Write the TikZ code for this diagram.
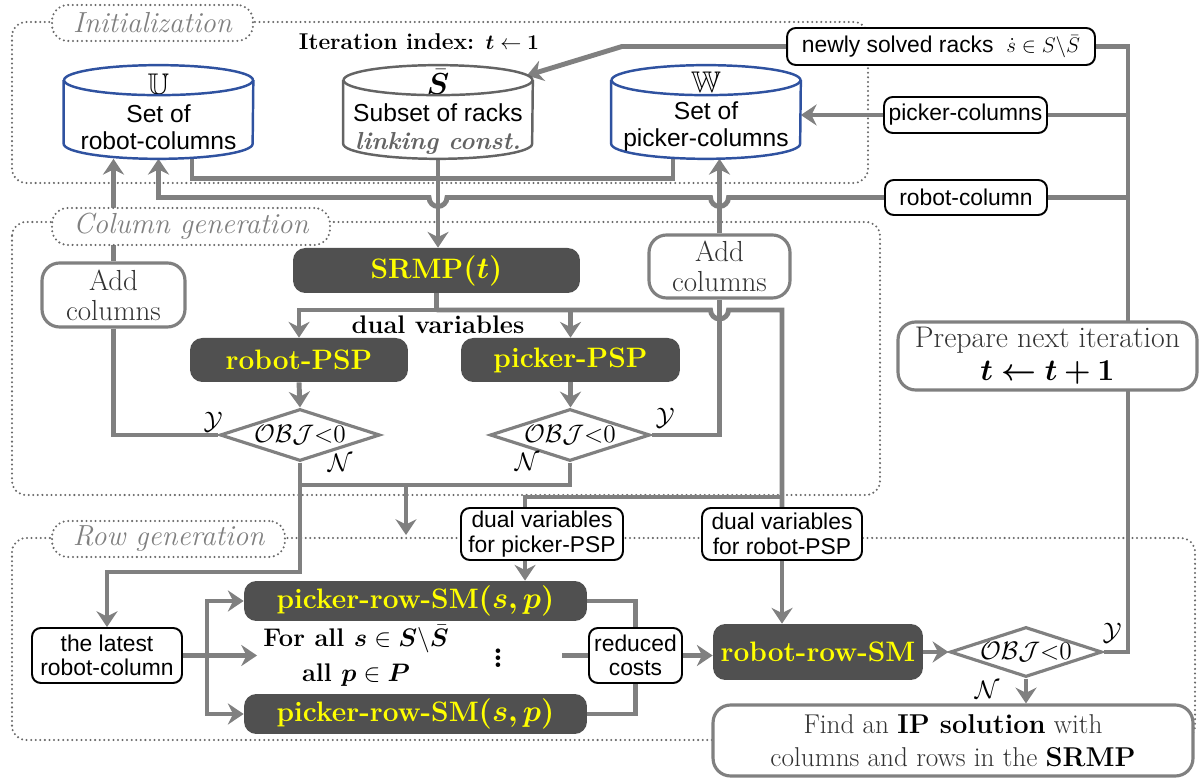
\documentclass[tikz,border=0pt]{standalone}
\usepackage{amssymb}
\usepackage{bm}
\usepackage{fontspec}
\setsansfont{Liberation Sans}
\usetikzlibrary{shapes.geometric, arrows.meta, positioning, calc, backgrounds}
\definecolor{flowgray}{RGB}{128,128,128}
\definecolor{framegray}{RGB}{105,105,105}
\definecolor{boxdark}{RGB}{80,80,80}
\definecolor{hiyellow}{RGB}{255,255,0}
\definecolor{dbblue}{RGB}{47,82,160}
\definecolor{dbgray}{RGB}{100,100,100}
\definecolor{txtgray}{RGB}{50,50,50}
\tikzset{
    frame/.style={draw=framegray, line width=1.3pt, line cap=round, dash pattern=on 0pt off 2.6pt, rounded corners=8pt},
    framelabel/.style={draw=framegray, line width=1.3pt, line cap=round, dash pattern=on 0pt off 2.6pt, fill=white, rounded corners=9pt, text=flowgray, font=\fontsize{16.5}{18}\selectfont\itshape, inner sep=0pt},
    flow/.style={draw=flowgray, line width=2.8pt},
    arrow/.style={flow, -{Stealth[length=9pt, width=12pt, inset=3pt]}},
    solver/.style={rectangle, rounded corners=7pt, fill=boxdark, text=hiyellow, font=\fontsize{16}{18}\selectfont\bfseries, inner sep=0pt},
    note/.style={rectangle, rounded corners=5pt, draw=black, line width=1.1pt, fill=white, font=\sffamily\fontsize{13}{14}\selectfont, align=center, inner sep=0pt},
    process/.style={rectangle, rounded corners=10pt, draw=flowgray, line width=1.8pt, fill=white, text=txtgray, font=\fontsize{16.5}{17}\selectfont, align=center, inner sep=0pt},
    decision/.style={diamond, draw=flowgray, line width=1.8pt, fill=white, inner sep=0pt},
    dectext/.style={font=\fontsize{15}{18}\selectfont, inner sep=0pt},
    database/.style={rectangle, minimum width=3.78cm, minimum height=1.86cm, inner sep=0pt, align=center, font=\sffamily\fontsize{14}{15.5}\selectfont},
    dbsym/.style={font=\fontsize{17}{15.5}\selectfont},
    yn/.style={font=\fontsize{14}{16}\selectfont, inner sep=0pt}
}
\begin{document}
\begin{tikzpicture}[x=0.02cm, y=0.02cm]
    \useasboundingbox (0,0) rectangle (1202,780);

    % Initialization
    \node[framelabel, minimum width=4.02cm, minimum height=0.72cm] (initlbl) at (152.5,757) {Initialization};
    \node[font=\fontsize{13}{15}\selectfont\bfseries] (iter) at (419,738) {Iteration index: $\bm{t}\leftarrow\bm{1}$};
    \node[database] (U) at (158.5,668) {{\fontsize{17}{15.5}\selectfont$\mathbb{U}$}\\Set of\\robot-columns};
    \node[database] (Sbar) at (438,668) {{\fontsize{17}{15.5}\selectfont$\bar{\bm{S}}$}\\Subset of racks\\{\rmfamily\bfseries\itshape\color{dbgray}linking const.}};
    \node[database] (W) at (706,668) {{\fontsize{17}{15.5}\selectfont$\mathbb{W}$}\\Set of\\picker-columns};
    \foreach \db/\col in {U/dbblue, Sbar/dbgray, W/dbblue}{
        \draw[\col, line width=1.4pt] ([yshift=-0.3cm]\db.north west) -- ([yshift=0.3cm]\db.south west)
            arc[start angle=180, end angle=360, x radius=1.89cm, y radius=0.3cm] -- ([yshift=-0.3cm]\db.north east);
        \draw[\col, line width=1.4pt] ([yshift=-0.3cm]\db.north) ellipse [x radius=1.89cm, y radius=0.3cm];
    }

    % Feedback labels
    \node[note, minimum width=6.16cm, minimum height=0.74cm] (newly) at (941,733.5) {newly solved racks\ \ $\dot{s}\in S\backslash\bar{S}$};
    \node[note, minimum width=3.26cm, minimum height=0.72cm] (pickcol) at (965.5,665) {picker-columns};
    \node[note, minimum width=3.24cm, minimum height=0.70cm] (robcol) at (966,582.5) {robot-column};
    \node[process, font=\fontsize{17}{19}\selectfont, minimum width=5.98cm, minimum height=1.36cm] (prep) at (1047.5,424) {Prepare next iteration\\{\color{black}$\bm{t\leftarrow t+1}$}};

    % Column generation
    \node[framelabel, minimum width=5.56cm, minimum height=0.74cm] (collbl) at (191,553.5) {Column generation};
    \node[solver, minimum width=5.74cm, minimum height=0.9cm] (SRMP) at (436.5,509.5) {SRMP$\bm{(t)}$};
    \node[process, minimum width=2.86cm, minimum height=1.28cm] (addL) at (113.5,485) {Add\\columns};
    \node[process, minimum width=2.82cm, minimum height=1.26cm] (addR) at (719.5,513.5) {Add\\columns};
    \node[font=\fontsize{14.5}{16}\selectfont\bfseries] (dualtxt) at (438,455) {dual variables};
    \node[solver, minimum width=4.36cm, minimum height=0.88cm] (robPSP) at (299,420) {robot-PSP};
    \node[solver, minimum width=4.38cm, minimum height=0.88cm] (pickPSP) at (570.5,420) {picker-PSP};
    \node[decision, minimum width=3.2cm, minimum height=1.04cm, label={[dectext]center:$\mathcal{OBJ}{<}0$}] (d1) at (300,345) {};
    \node[decision, minimum width=3.2cm, minimum height=1.04cm, label={[dectext]center:$\mathcal{OBJ}{<}0$}] (d2) at (570,345) {};
    \node[yn] (y1) at (213,358) {$\mathcal{Y}$};
    \node[yn] (n1) at (340,317) {$\mathcal{N}$};
    \node[yn] (y2) at (665,362) {$\mathcal{Y}$};
    \node[yn] (n2) at (527,318) {$\mathcal{N}$};

    % Row generation
    \node[framelabel, minimum width=4.66cm, minimum height=0.72cm] (rowlbl) at (168.5,241) {Row generation};
    \node[note, minimum width=3.24cm, minimum height=1.04cm] (dualpick) at (542,246) {dual variables\\for picker-PSP};
    \node[note, minimum width=3.2cm, minimum height=1.04cm] (dualrob) at (782,246) {dual variables\\for robot-PSP};
    \node[note, minimum width=3.0cm, minimum height=1.1cm] (latest) at (107,124.5) {the latest\\robot-column};
    \node[solver, minimum width=6.86cm, minimum height=0.8cm] (prs1) at (415.5,179) {picker-row-SM$\bm{(s,p)}$};
    \node[solver, minimum width=6.86cm, minimum height=0.8cm] (prs2) at (415.5,66) {picker-row-SM$\bm{(s,p)}$};
    \node[font=\fontsize{14.5}{20}\selectfont\bfseries, align=center] (forall) at (356,124) {For all $\bm{s}\in\bm{S}\backslash\bar{\bm{S}}$\\all $\bm{p}\in\bm{P}$};
    \node[font=\fontsize{18}{18}\selectfont] (vdots) at (498,127) {$\bm{\vdots}$};
    \node[note, minimum width=1.86cm, minimum height=1.1cm] (reduced) at (635.5,124.5) {reduced\\costs};
    \node[solver, minimum width=4.2cm, minimum height=1.12cm] (rrsm) at (818,128) {robot-row-SM};
    \node[decision, minimum width=3.04cm, minimum height=1.0cm, label={[dectext]center:$\mathcal{OBJ}{<}0$}] (d3) at (1026,128) {};
    \node[yn] (y3) at (1112,147) {$\mathcal{Y}$};
    \node[yn] (n3) at (987,90) {$\mathcal{N}$};
    \node[process, font=\fontsize{15.5}{18.5}\selectfont, minimum width=9.6cm, minimum height=1.42cm] (ip) at (953,39.5) {Find an {\color{black}\bfseries IP solution} with\\columns and rows in the {\color{black}\bfseries SRMP}};

    % Helper levels
    \coordinate (vx) at (1128,0);
    \coordinate (sbarkink) at (622,0);
    \coordinate (sbartop) at (527,704.5);
    \coordinate (dvlevel) at (0,470);
    \coordinate (brlevel) at (0,283);
    \coordinate (nlevel) at (0,295);
    \coordinate (rlevel) at (0,208);
    \coordinate (jx) at (207,0);
    \coordinate (rowin) at (406,245);
    \coordinate (dotsout) at (562,124.5);

    \begin{scope}[on background layer]
        % Frames
        \draw[frame] (12,758) rectangle (868,597);
        \draw[frame] (12,558) rectangle (880,285);
        \draw[frame] (12,242) rectangle (1195,40);

        % Initialization links
        \draw[flow] ([xshift=0.67cm]U.south) -- ++(0,-19.5) -| ([xshift=-0.66cm]W.south);
        \draw[arrow] (Sbar.south) -- (Sbar.south |- SRMP.north);
        \draw[arrow] (newly.west) -- (newly.west -| sbarkink) -- (sbartop);
        \draw[arrow] (pickcol.west) -- (pickcol.west -| W.east);
        \draw[arrow] (robcol.west) -- ($(addR.north |- robcol.west)+(9,0)$) arc[start angle=0, end angle=-180, radius=9]
            -- ($(Sbar.south |- robcol.west)+(9,0)$) arc[start angle=0, end angle=-180, radius=9]
            -- (U.south |- robcol.west) -- (U.south);
        \draw[flow] (d3.east) -- (d3.east -| vx) -- (vx |- newly.east) -- (newly.east);
        \draw[flow] (pickcol.east) -- (pickcol.east -| vx);
        \draw[flow] (robcol.east) -- (robcol.east -| vx);

        % Column generation links
        \draw[arrow] (addL.north) -- (addL.north |- U.south);
        \draw[arrow] (addR.north) -- (addR.north |- W.south);
        \draw[flow] (addL.south) |- (d1.west);
        \draw[flow] (addR.south) |- (d2.east);
        \draw[flow] (SRMP.south) -- (SRMP.south |- dvlevel);
        \draw[arrow] (SRMP.south |- dvlevel) -| (robPSP.north);
        \draw[arrow] (SRMP.south |- dvlevel) -| (pickPSP.north);
        \draw[flow] (SRMP.south |- dvlevel) -- ($(addR.south |- dvlevel)-(9,0)$) arc[start angle=180, end angle=360, radius=9]
            -- (dualrob.north |- dvlevel) -- (dualrob.north);
        \draw[flow] (dualrob.north |- brlevel) -| ([xshift=-0.34cm]dualpick.north);
        \draw[arrow] (robPSP.south) -- (d1.north);
        \draw[arrow] (pickPSP.south) -- (pickPSP.south |- d2.north);
        \draw[arrow] (d1.south) -- (d1.south |- rlevel) -| (latest.north);
        \draw[flow] (d2.south) |- (d1.south |- nlevel);
        \draw[arrow] (rowin |- nlevel) -- (rowin);

        % Row generation links
        \draw[flow] (latest.east) -- (latest.east -| jx);
        \draw[arrow] (latest.east -| jx) |- (prs1.west);
        \draw[arrow] (latest.east -| jx) |- (prs2.west);
        \draw[arrow] (latest.east) -- (latest.east -| forall.west);
        \draw[arrow] ([xshift=-0.34cm]dualpick.south) -- ([xshift=-0.34cm]dualpick.south |- prs1.north);
        \draw[arrow] (dualrob.south) -- (dualrob.south |- rrsm.north);
        \draw[flow] (prs1.east) -| (reduced.north);
        \draw[flow] (prs2.east) -| (reduced.south);
        \draw[flow] (dotsout) -- (reduced.west);
        \draw[arrow] (reduced.east) -- (reduced.east -| rrsm.west);
        \draw[arrow] (rrsm.east) -- (d3.west);
        \draw[arrow] (d3.south) -- (d3.south |- ip.north);
    \end{scope}
\end{tikzpicture}
\end{document}
